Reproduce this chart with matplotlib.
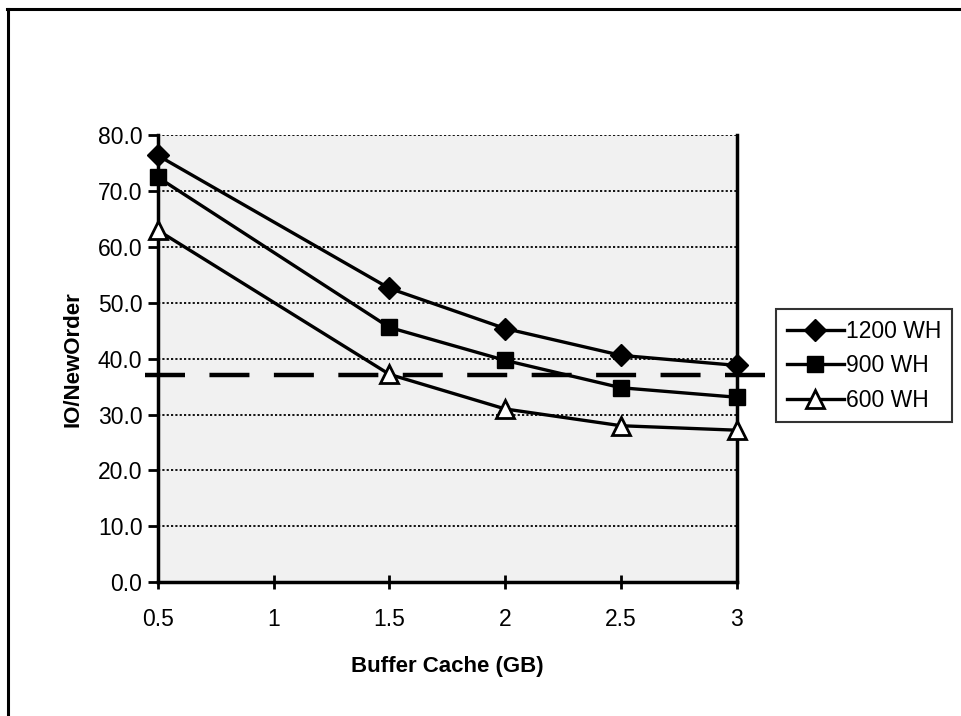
import matplotlib
matplotlib.use("Agg")
import matplotlib.pyplot as plt
from matplotlib.lines import Line2D

plt.rcParams['font.family'] = ['Liberation Sans', 'DejaVu Sans']

cache_gb = [0.5, 1.5, 2, 2.5, 3]
wh1200 = [76.4, 52.6, 45.4, 40.6, 38.8]
wh900 = [72.5, 45.6, 39.7, 34.8, 33.1]
wh600 = [63.0, 37.2, 31.0, 28.0, 27.2]
ref_level = 37.0
xticks = [0.5, 1, 1.5, 2, 2.5, 3]
yticks = [0, 10, 20, 30, 40, 50, 60, 70, 80]

fig = plt.figure(figsize=(9.62, 7.16), dpi=100)
ax = fig.add_axes([0.164, 0.187, 0.602, 0.624])
ax.set_facecolor('#f1f1f1')

ax.plot(cache_gb, wh1200, color='black', lw=2.4, marker='D', ms=11,
        mfc='black', mec='black', clip_on=False, zorder=5, label='1200 WH')
ax.plot(cache_gb, wh900, color='black', lw=2.4, marker='s', ms=12,
        mfc='black', mec='black', clip_on=False, zorder=5, label='900 WH')
ax.plot(cache_gb, wh600, color='black', lw=2.4, marker='^', ms=13,
        mfc='white', mec='black', mew=2, clip_on=False, zorder=5, label='600 WH')

ax.plot([0.444, 3.164], [ref_level, ref_level], color='black', lw=3.2,
        dashes=(9.0, 5.5), clip_on=False, zorder=6)

ax.set_xlim(0.5, 3)
ax.set_ylim(0, 80)
ax.set_xticks(xticks)
ax.set_xticklabels([f"{v:g}" for v in xticks])
ax.set_yticks(yticks)
ax.set_yticklabels([f"{v:.1f}" for v in yticks])
ax.tick_params(axis='x', direction='inout', length=10, width=2, labelsize=16.5, pad=14)
ax.tick_params(axis='y', direction='out', length=7, width=2, labelsize=16.5, pad=4)

ax.yaxis.grid(True, linestyle=(0, (1.2, 1.2)), color='black', lw=1.3)
ax.set_axisbelow(True)

for s in ['left', 'bottom', 'right']:
    ax.spines[s].set_linewidth(2.5)
ax.spines['top'].set_visible(False)

ax.set_xlabel('Buffer Cache (GB)', fontsize=16, fontweight='bold', labelpad=18)
ax.set_ylabel('IO/NewOrder', fontsize=16, fontweight='bold', labelpad=10)

leg = fig.legend(loc='upper left', bbox_to_anchor=(0.807, 0.568), fontsize=16.5,
                 frameon=True, fancybox=False, edgecolor='black',
                 handlelength=2.5, handletextpad=0.1, borderpad=0.45,
                 labelspacing=0.5, borderaxespad=0)
leg.get_frame().set_linewidth(1.5)

# figure border (top and left)
fig.add_artist(Line2D([0.007, 1.0], [0.987, 0.987], color='black', lw=2.2,
                      transform=fig.transFigure))
fig.add_artist(Line2D([0.008, 0.008], [0.0, 0.987], color='black', lw=2.2,
                      transform=fig.transFigure))

fig.savefig('out.png', dpi=100)
